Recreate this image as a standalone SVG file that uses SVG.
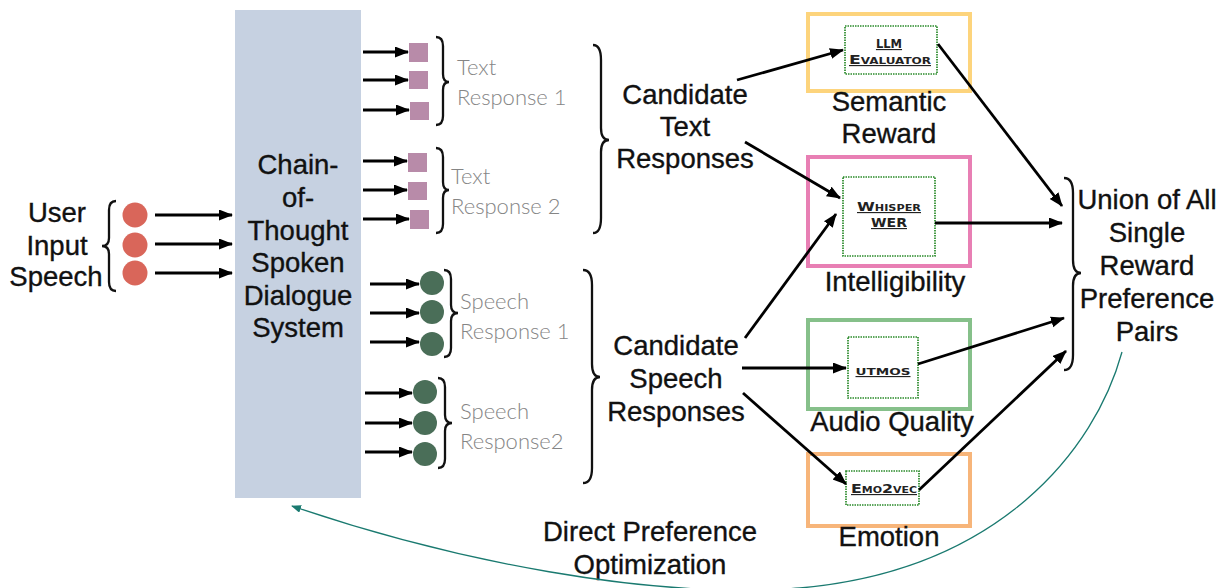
<svg xmlns="http://www.w3.org/2000/svg" width="1220" height="588" viewBox="0 0 1220 588">
<style>
.lbl{font-family:"Liberation Sans",Arial,sans-serif;font-size:27.5px;fill:#111;stroke:#111;stroke-width:0.35;text-anchor:middle}
.gray{font-family:Lato,"Liberation Sans",sans-serif;font-weight:300;font-size:22px;fill:#858585}
.tool{font-family:"DejaVu Sans",sans-serif;font-weight:bold;font-size:11.5px;font-variant:small-caps;text-decoration:underline;fill:#222;text-anchor:middle}
.inner{fill:#fff;stroke:#2a8a2a;stroke-width:1.7;stroke-dasharray:1.5 1}
.brace{fill:none;stroke:#111;stroke-width:2.3}
.arr{stroke:#000;stroke-width:2.8;fill:none;marker-end:url(#ah)}
.sq{fill:#b88ba9}
.gc{fill:#4a6e58}
.rc{fill:#d9665a}
</style>
<defs>
<marker id="ah" markerUnits="userSpaceOnUse" markerWidth="16" markerHeight="13" refX="13" refY="5.5" orient="auto"><path d="M0,0 L14,5.5 L0,11 z" fill="#000"/></marker>
<marker id="th" markerUnits="userSpaceOnUse" markerWidth="12" markerHeight="10" refX="9" refY="4" orient="auto"><path d="M0,0 L10,4 L0,8 z" fill="#1a7a70"/></marker>
</defs>

<g id="system">
<rect x="235" y="10" width="126" height="488" fill="#c6d1e1"/>
<text class="lbl" x="298"><tspan x="298" y="174">Chain-</tspan><tspan x="298" y="207">of-</tspan><tspan x="298" y="240">Thought</tspan><tspan x="298" y="272">Spoken</tspan><tspan x="298" y="305">Dialogue</tspan><tspan x="298" y="337">System</tspan></text>
</g>

<g id="user-input">
<text class="lbl"><tspan x="57" y="222">User</tspan><tspan x="57" y="255">Input</tspan><tspan x="56" y="286">Speech</tspan></text>
<path class="brace" d="M116,201 Q109,201 109,210 L109,238 Q109,246 102,246 Q109,246 109,254 L109,282 Q109,291 116,291"/>
<circle class="rc" cx="135" cy="215" r="12.5"/>
<circle class="rc" cx="135" cy="245" r="12.5"/>
<circle class="rc" cx="135" cy="273" r="12.5"/>
</g>

<g id="text-response-1">
<rect class="sq" x="409" y="43" width="19" height="19"/>
<rect class="sq" x="409" y="71" width="19" height="18"/>
<rect class="sq" x="410" y="102" width="19" height="18"/>
<path class="brace" d="M436,37 Q443,37 443,46 L443,74 Q443,82 449,82 Q443,82 443,90 L443,116 Q443,125 436,125"/>
<text class="gray"><tspan x="457" y="75">Text</tspan><tspan x="457" y="105">Response 1</tspan></text>
</g>

<g id="text-response-2">
<rect class="sq" x="408" y="153" width="19" height="19"/>
<rect class="sq" x="408" y="182" width="19" height="18"/>
<rect class="sq" x="410" y="210" width="19" height="19"/>
<path class="brace" d="M436,148 Q443,148 443,157 L443,182 Q443,190 449,190 Q443,190 443,198 L443,224 Q443,233 436,233"/>
<text class="gray"><tspan x="451" y="184">Text</tspan><tspan x="451" y="214">Response 2</tspan></text>
</g>

<g id="speech-response-1">
<circle class="gc" cx="432" cy="283" r="12"/>
<circle class="gc" cx="432" cy="312" r="12"/>
<circle class="gc" cx="432" cy="344" r="12"/>
<path class="brace" d="M444,270 Q451,270 451,279 L451,305 Q451,313 458,313 Q451,313 451,321 L451,348 Q451,357 444,357"/>
<text class="gray"><tspan x="460" y="309">Speech</tspan><tspan x="460" y="339">Response 1</tspan></text>
</g>

<g id="speech-response-2">
<circle class="gc" cx="425" cy="392" r="12"/>
<circle class="gc" cx="425" cy="423" r="12"/>
<circle class="gc" cx="425" cy="454" r="12"/>
<path class="brace" d="M438,378 Q445,378 445,387 L445,415 Q445,423 452,423 Q445,423 445,431 L445,459 Q445,468 438,468"/>
<text class="gray"><tspan x="460" y="419">Speech</tspan><tspan x="460" y="449">Response2</tspan></text>
</g>

<g id="candidate-text">
<path class="brace" d="M593,45 Q601,45 601,60 L601,128 Q601,140 609,140 Q601,140 601,152 L601,218 Q601,233 593,233"/>
<text class="lbl"><tspan x="685" y="104">Candidate</tspan><tspan x="685" y="136">Text</tspan><tspan x="685" y="168">Responses</tspan></text>
</g>

<g id="candidate-speech">
<path class="brace" d="M583,270 Q592,270 592,285 L592,364 Q592,377 600,377 Q592,377 592,390 L592,468 Q592,483 583,483"/>
<text class="lbl"><tspan x="676" y="355">Candidate</tspan><tspan x="676" y="388">Speech</tspan><tspan x="676" y="421">Responses</tspan></text>
</g>

<g id="semantic-reward">
<rect x="808" y="14" width="162" height="77" fill="none" stroke="#fdd47c" stroke-width="4"/>
<rect class="inner" x="845" y="26" width="92" height="48"/>
<text class="tool" x="889" y="48" font-size="13">LLM</text>
<text class="tool" x="890" y="64" textLength="82" lengthAdjust="spacingAndGlyphs">Evaluator</text>
<text class="lbl"><tspan x="889" y="111">Semantic</tspan><tspan x="889" y="143">Reward</tspan></text>
</g>

<g id="intelligibility">
<rect x="808" y="157" width="162" height="109" fill="none" stroke="#e87fb4" stroke-width="4"/>
<rect class="inner" x="843" y="177" width="92" height="79"/>
<text class="tool" x="889" y="211" textLength="64" lengthAdjust="spacingAndGlyphs">Whisper</text>
<text class="tool" x="889" y="227" textLength="36" lengthAdjust="spacingAndGlyphs">WER</text>
<text class="lbl" x="895" y="291">Intelligibility</text>
</g>

<g id="audio-quality">
<rect x="808" y="320" width="162" height="89" fill="none" stroke="#86c08a" stroke-width="4"/>
<rect class="inner" x="848" y="337" width="70" height="61"/>
<text class="tool" x="883" y="375" textLength="55" lengthAdjust="spacingAndGlyphs">utmos</text>
<text class="lbl" x="892" y="431">Audio Quality</text>
</g>

<g id="emotion">
<rect x="808" y="454" width="162" height="72" fill="none" stroke="#f7b57a" stroke-width="4"/>
<rect class="inner" x="846" y="471" width="73" height="34"/>
<text class="tool" x="884" y="493" textLength="66" lengthAdjust="spacingAndGlyphs">Emo2vec</text>
<text class="lbl" x="889" y="546">Emotion</text>
</g>

<g id="union">
<path class="brace" d="M1064,178 Q1073,178 1073,193 L1073,260 Q1073,273 1081,273 Q1073,273 1073,286 L1073,355 Q1073,370 1064,370"/>
<text class="lbl"><tspan x="1147" y="209">Union of All</tspan><tspan x="1147" y="242">Single</tspan><tspan x="1147" y="275">Reward</tspan><tspan x="1147" y="308">Preference</tspan><tspan x="1147" y="341">Pairs</tspan></text>
</g>

<g id="dpo-label">
<text class="lbl"><tspan x="650" y="541">Direct Preference</tspan><tspan x="650" y="574">Optimization</tspan></text>
</g>

<g id="connectors">
<line class="arr" x1="155" y1="215" x2="232" y2="215"/>
<line class="arr" x1="155" y1="244" x2="232" y2="244"/>
<line class="arr" x1="155" y1="273" x2="232" y2="273"/>
<line class="arr" x1="363" y1="52" x2="408" y2="52"/>
<line class="arr" x1="363" y1="80" x2="408" y2="80"/>
<line class="arr" x1="363" y1="110" x2="409" y2="110"/>
<line class="arr" x1="363" y1="161" x2="407" y2="161"/>
<line class="arr" x1="363" y1="190" x2="407" y2="190"/>
<line class="arr" x1="363" y1="219" x2="409" y2="219"/>
<line class="arr" x1="370" y1="284" x2="419" y2="284"/>
<line class="arr" x1="370" y1="313" x2="419" y2="313"/>
<line class="arr" x1="370" y1="342" x2="419" y2="342"/>
<line class="arr" x1="365" y1="393" x2="412" y2="393"/>
<line class="arr" x1="365" y1="423" x2="412" y2="423"/>
<line class="arr" x1="365" y1="452" x2="412" y2="452"/>
<line class="arr" x1="737" y1="80" x2="843" y2="50"/>
<line class="arr" x1="745" y1="142" x2="840" y2="198"/>
<line class="arr" x1="745" y1="338" x2="836" y2="214"/>
<line class="arr" x1="742" y1="368" x2="846" y2="368"/>
<line class="arr" x1="743" y1="393" x2="846" y2="484"/>
<line class="arr" x1="938" y1="44" x2="1062" y2="206"/>
<line class="arr" x1="935" y1="223" x2="1062" y2="223"/>
<line class="arr" x1="918" y1="364" x2="1064" y2="318"/>
<line class="arr" x1="919" y1="490" x2="1066" y2="351"/>
<path d="M1122,352 C1095,450 1000,570 800,588 C650,600 450,560 292,506" fill="none" stroke="#1a7a70" stroke-width="1.3" marker-end="url(#th)"/>
</g>
</svg>
